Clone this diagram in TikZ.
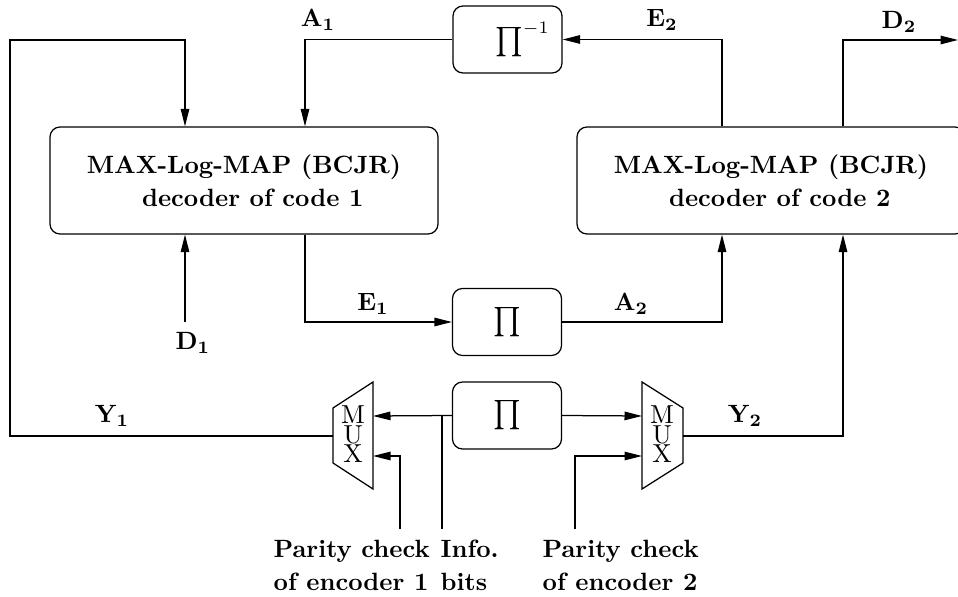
\documentclass[tikz,border=0pt]{standalone}
\usepackage{graphicx}
\usetikzlibrary{arrows.meta}
\newcommand{\bigprod}{\scalebox{1.17}{$\prod$}}
\begin{document}
\begin{tikzpicture}[x=0.4pt,y=-0.4pt,line width=0.5pt,
  decoder/.style={draw,rounded corners=4pt,minimum width=155.2pt,minimum height=42.8pt,
    inner sep=0pt,align=center,font=\bfseries\fontsize{10}{13}\selectfont},
  pibox/.style={draw,rounded corners=4pt,minimum width=43.6pt,minimum height=26.8pt,inner sep=0pt},
  muxletter/.style={inner sep=0pt,font=\fontsize{10.4}{12}\selectfont},
  sig/.style={inner sep=0pt},
  botlabel/.style={anchor=north west,align=left,inner sep=0pt,font=\bfseries\fontsize{10}{13.2}\selectfont},
  arr/.style={-{Triangle[length=7pt,width=3.4pt]}}]
  \clip (0,0) rectangle (958,597);

  % decoders and interleavers
  \node[decoder] (dec1) at (244,180.5) {MAX-Log-MAP (BCJR)\\\hspace*{7pt}decoder of code 1};
  \node[decoder] (dec2) at (771,180.5) {MAX-Log-MAP (BCJR)\\\hspace*{7pt}decoder of code 2};
  \node[pibox] (pinv) at (507.5,39.5) {\hspace*{12pt}$\bigprod^{-1}$};
  \node[pibox] (pim) at (507,322) {\bigprod};
  \node[pibox] (pil) at (507,415.5) {\bigprod};

  % multiplexers
  \draw (333,408) -- (373,382) -- (373,489) -- (333,463) -- cycle;
  \draw (642,382) -- (683,408) -- (683,463) -- (642,489) -- cycle;
  \node[muxletter] (mux1m) at (353,415) {M};
  \node[muxletter] (mux1u) at (353,434.5) {U};
  \node[muxletter] (mux1x) at (353,454) {X};
  \node[muxletter] (mux2m) at (662,415) {M};
  \node[muxletter] (mux2u) at (662,434.5) {U};
  \node[muxletter] (mux2x) at (662,454) {X};
  \coordinate (m1a) at (373,416);
  \coordinate (m1b) at (373,456);
  \coordinate (m1o) at (333,436);
  \coordinate (m2a) at (642,416);
  \coordinate (m2b) at (642,456);
  \coordinate (m2o) at (683,436);

  % column and corner coordinates
  \coordinate (cA) at (185,0);
  \coordinate (cB) at (305,0);
  \coordinate (cC) at (722,0);
  \coordinate (cD) at (843,0);
  \coordinate (xL) at (10,40);
  \coordinate (d1end) at (185,322);
  \coordinate (d2out) at (958,40);
  \coordinate (jn) at (442,416);
  \coordinate (infoend) at (442,529);
  \coordinate (pc1end) at (400,529);
  \coordinate (pc2end) at (575,529);

  % connectors
  \draw[arr] (m1o) -| (xL) -| (cA |- dec1.north);
  \draw[arr] (pinv.west) -| (cB |- dec1.north);
  \draw[arr] (cB |- dec1.south) |- (pim.west);
  \draw[arr] (d1end) -- (cA |- dec1.south);
  \draw[arr] (pim.east) -| (cC |- dec2.south);
  \draw[arr] (m2o) -| (cD |- dec2.south);
  \draw[arr] (cC |- dec2.north) |- (pinv.east);
  \draw[arr] (cD |- dec2.north) |- (d2out);
  \draw[arr] (pil.west) -- (m1a);
  \draw[arr] (pil.east) -- (m2a);
  \draw (infoend) -- (jn);
  \draw[arr] (pc1end) |- (m1b);
  \draw[arr] (pc2end) |- (m2b);

  % signal labels
  \node[sig] (lA1) at (318,20) {$\mathbf{A_1}$};
  \node[sig] (lE2) at (662,20) {$\mathbf{E_2}$};
  \node[sig] (lD2) at (899,22) {$\mathbf{D_2}$};
  \node[sig] (lE1) at (373,304) {$\mathbf{E_1}$};
  \node[sig] (lA2) at (631,304) {$\mathbf{A_2}$};
  \node[sig] (lD1) at (193,343) {$\mathbf{D_1}$};
  \node[sig] (lY1) at (112,416) {$\mathbf{Y_1}$};
  \node[sig] (lY2) at (745,416) {$\mathbf{Y_2}$};

  % input labels
  \node[botlabel] (lpc1) at (273,539.5) {Parity check\\of encoder 1};
  \node[botlabel] (linfo) at (440,539.5) {Info.\\bits};
  \node[botlabel] (lpc2) at (542,539.5) {Parity check\\of encoder 2};
\end{tikzpicture}
\end{document}
